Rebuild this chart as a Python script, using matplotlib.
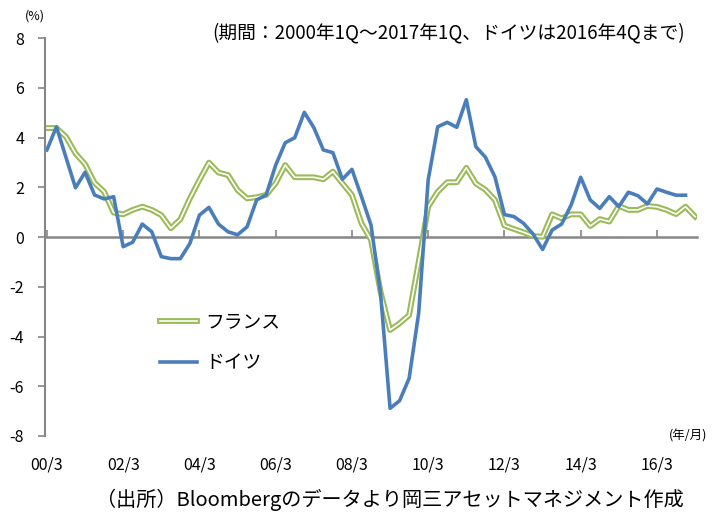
import matplotlib.pyplot as plt
import matplotlib.patheffects as pe
import numpy as np

plt.rcParams['font.family'] = ['Noto Sans CJK JP', 'DejaVu Sans']
plt.rcParams['axes.unicode_minus'] = False

# 四半期データ 2000Q1～2017Q1 (ドイツは2016Q4まで)
france = [4.38, 4.38, 4.03, 3.36, 2.93, 2.18, 1.82, 0.98, 0.91, 1.09,
          1.22, 1.09, 0.88, 0.35, 0.71, 1.55, 2.29, 2.99, 2.59, 2.49,
          1.89, 1.55, 1.60, 1.69, 2.16, 2.89, 2.40, 2.40, 2.40, 2.32,
          2.63, 2.16, 1.69, 0.55, -0.12, -2.20, -3.74, -3.47, -3.14, -1.00,
          1.22, 1.82, 2.20, 2.20, 2.78, 2.15, 1.90, 1.49, 0.46, 0.32,
          0.19, 0.04, 0.01, 0.91, 0.75, 0.91, 0.91, 0.44, 0.72, 0.62,
          1.25, 1.09, 1.09, 1.25, 1.21, 1.09, 0.92, 1.22, 0.82]
germany = [3.50, 4.43, 3.20, 1.98, 2.60, 1.69, 1.53, 1.62, -0.39, -0.21,
           0.52, 0.21, -0.79, -0.87, -0.87, -0.26, 0.88, 1.19, 0.52, 0.21,
           0.09, 0.41, 1.49, 1.69, 2.89, 3.79, 3.99, 5.01, 4.40, 3.50,
           3.39, 2.32, 2.72, 1.62, 0.48, -2.26, -6.89, -6.58, -5.68, -3.07,
           2.30, 4.43, 4.61, 4.41, 5.52, 3.63, 3.21, 2.42, 0.90, 0.82,
           0.55, 0.12, -0.50, 0.28, 0.52, 1.29, 2.40, 1.49, 1.15, 1.62,
           1.22, 1.80, 1.66, 1.33, 1.93, 1.80, 1.68, 1.68]
tick_labels = ['00/3', '02/3', '04/3', '06/3', '08/3', '10/3', '12/3', '14/3', '16/3']

green = '#9BBB59'
blue = '#4A7EBB'
gray = '#868686'

fig = plt.figure(figsize=(7.26, 5.2), dpi=100)
ax = fig.add_axes([45 / 726, 1 - 436 / 520, 652 / 726, 398 / 520])

xf = np.arange(len(france))
xg = np.arange(len(germany))
ax.plot(xf, france, color='white', lw=1.2, label='フランス',
        path_effects=[pe.Stroke(linewidth=4.2, foreground=green), pe.Normal()])
ax.plot(xg, germany, color=blue, lw=2.6, label='ドイツ')

ax.set_xlim(-0.2, 68.2)
ax.set_ylim(-8, 8)
ax.set_yticks(range(-8, 9, 2))
ax.set_xticks(range(0, 68, 8))
ax.set_xticklabels(tick_labels)

for s in ['top', 'right', 'bottom']:
    ax.spines[s].set_visible(False)
ax.spines['left'].set_color(gray)
ax.spines['left'].set_linewidth(1.5)
ax.tick_params(axis='y', direction='out', length=5, width=1.2, color=gray,
               labelsize=11.5, pad=10)
ax.tick_params(axis='x', length=0, labelsize=11.5, pad=15)

# ゼロ線の軸
sec = ax.secondary_xaxis(0.5)
sec.set_xticks(range(0, 68, 8))
sec.set_xticklabels([])
for s in sec.spines.values():
    s.set_color(gray)
    s.set_linewidth(1.8)
sec.tick_params(axis='x', direction='out', length=5, width=1.2, color=gray)

ax.legend(loc='upper left', bbox_to_anchor=(0.15, 0.355), frameon=False,
          fontsize=13.5, handlelength=2.0, labelspacing=1.05, handletextpad=0.45)

fig.text(25 / 726, 1 - 16 / 520, '(%)', fontsize=9, ha='left', va='center')
fig.text(449 / 726, 1 - 33 / 520, '(期間：2000年1Q～2017年1Q、ドイツは2016年4Qまで)',
         fontsize=13.5, ha='center', va='center')
fig.text(707 / 726, 1 - 436 / 520, '(年/月)', fontsize=9, ha='right', va='center')
fig.text(390 / 726, 1 - 500 / 520, '（出所）Bloombergのデータより岡三アセットマネジメント作成',
         fontsize=14.5, ha='center', va='center')

fig.savefig('out.png', dpi=100)
